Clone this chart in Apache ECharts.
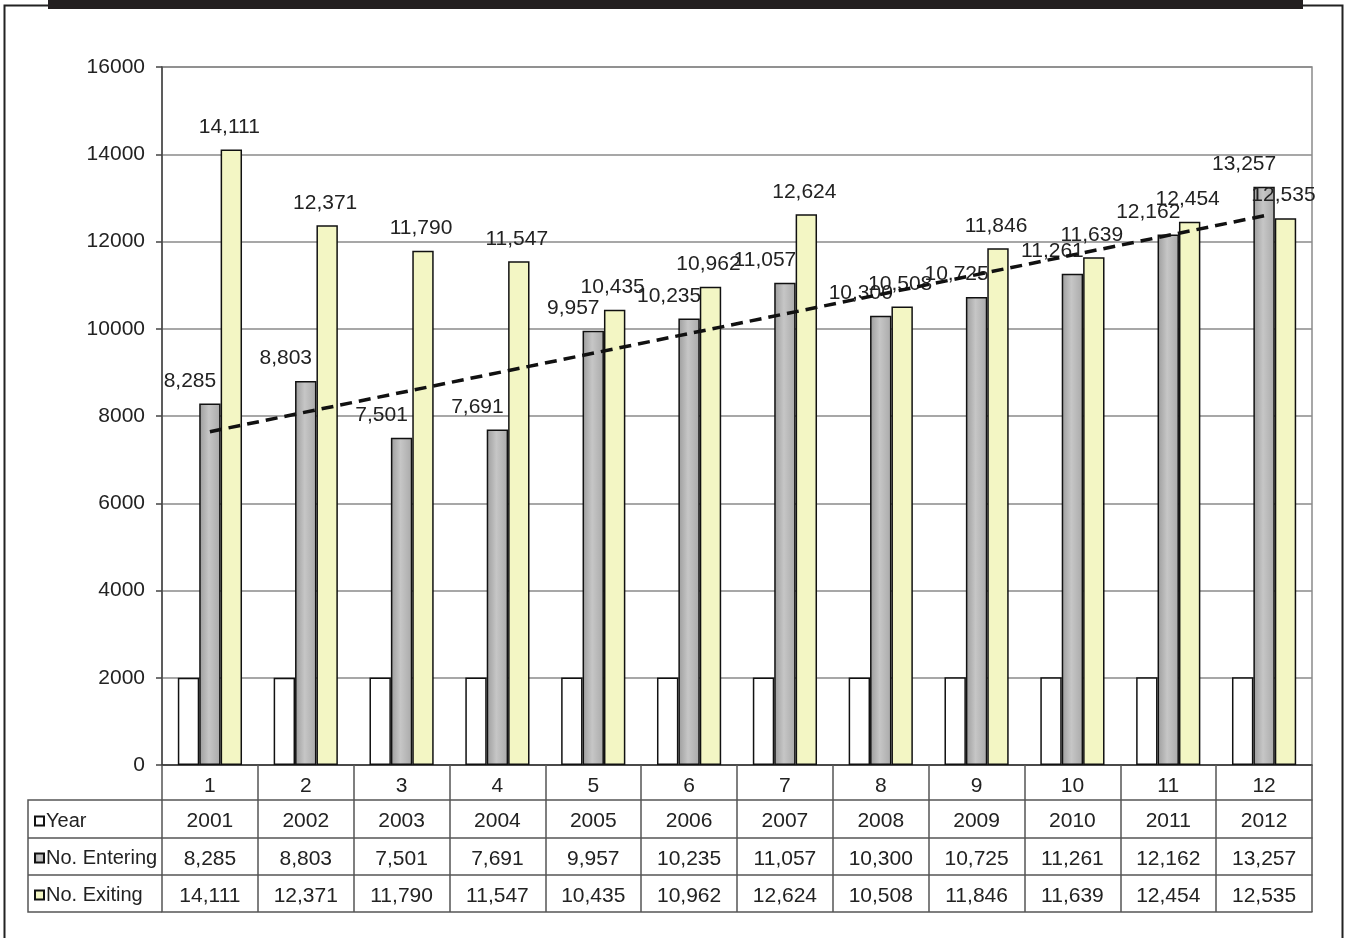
<!DOCTYPE html>
<html>
<head>
<meta charset="utf-8">
<title>Entering and Exiting, 2001-2012</title>
<script src="https://cdn.jsdelivr.net/npm/echarts@6/dist/echarts.min.js"></script>
<style>
  html, body { margin: 0; padding: 0; background: #fff; }
  #chart { width: 1345px; height: 938px; }
</style>
</head>
<body>
<div id="chart"></div>
<script>
// Category numbers shown on the axis row of the data table
const categories = ['1', '2', '3', '4', '5', '6', '7', '8', '9', '10', '11', '12'];
// Series values
const years    = [2001, 2002, 2003, 2004, 2005, 2006, 2007, 2008, 2009, 2010, 2011, 2012];
const entering = [8285, 8803, 7501, 7691, 9957, 10235, 11057, 10300, 10725, 11261, 12162, 13257];
const exiting  = [14111, 12371, 11790, 11547, 10435, 10962, 12624, 10508, 11846, 11639, 12454, 12535];
// Linear trend of "No. Entering": values at the first and last category
const trendEnds = [7640, 12590];
// Value axis range
const yMin = 0, yMax = 16000, yStep = 2000;

const FONT = "'Liberation Sans Narrow', 'Arial Narrow', 'Liberation Sans', Arial, sans-serif";
const TEXT = '#222';
const FS = 21;
const fmt = v => Number(v).toLocaleString('en-US');

const chart = echarts.init(document.getElementById('chart'), null, { renderer: 'canvas' });

// Grid edges in pixels; the data table is laid out beneath the plot
const G = { left: 162, right: 33, top: 67, bottom: 173 };
const W = 1345, H = 938;
const axisY = H - G.bottom;          // y of the category axis line
const rowLines = [35, 73, 110, 147]; // table row lines below the axis
const tableLeft = 28;

function tableAxis(data, offset, showLabel) {
  return {
    type: 'category',
    gridIndex: 0,
    position: 'bottom',
    offset: offset,
    data: data,
    axisLine: { show: true, lineStyle: { color: '#555', width: 1.5 } },
    axisTick: { show: false },
    axisLabel: {
      show: showLabel, margin: 11, fontFamily: FONT, fontSize: FS, color: TEXT, interval: 0
    },
    splitLine: { show: false }
  };
}

const grayFill = new echarts.graphic.LinearGradient(0, 0, 1, 0, [
  { offset: 0, color: '#9c9c9c' },
  { offset: 0.45, color: '#c6c6c6' },
  { offset: 1, color: '#a9a9a9' }
]);

const option = {
  animation: false,
  backgroundColor: '#fff',
  textStyle: { fontFamily: FONT },
  grid: {
    left: G.left, right: G.right, top: G.top, bottom: G.bottom,
    show: true, backgroundColor: '#fff', borderColor: '#8a8a8a', borderWidth: 1.5
  },
  legend: {
    orient: 'vertical',
    left: tableLeft + 6,
    top: axisY + rowLines[0] + 11,
    padding: 0,
    itemGap: 17,
    itemWidth: 9,
    itemHeight: 9,
    icon: 'rect',
    selectedMode: false,
    data: ['Year', 'No. Entering', 'No. Exiting'],
    textStyle: { fontFamily: FONT, fontSize: 20, lineHeight: 20, color: TEXT, padding: [0, 0, 0, -3] }
  },
  xAxis: [
    {
      type: 'category',
      gridIndex: 0,
      position: 'bottom',
      data: categories,
      axisLine: { show: true, lineStyle: { color: '#333', width: 1.5 } },
      axisTick: { show: true, length: rowLines[3], inside: false, lineStyle: { color: '#555', width: 1.5 } },
      axisLabel: { margin: 11, fontFamily: FONT, fontSize: FS, color: TEXT, interval: 0 },
      splitLine: { show: false }
    },
    tableAxis(years.map(String), rowLines[0], true),
    tableAxis(entering.map(fmt), rowLines[1], true),
    tableAxis(exiting.map(fmt), rowLines[2], true),
    tableAxis(categories, rowLines[3], false)
  ],
  yAxis: {
    type: 'value',
    min: yMin, max: yMax, interval: yStep,
    axisLine: { show: true, lineStyle: { color: '#444', width: 1.5 } },
    axisTick: { show: true, length: 6, lineStyle: { color: '#444', width: 1.5 } },
    axisLabel: { margin: 17, fontFamily: FONT, fontSize: FS, color: TEXT, formatter: v => String(v) },
    splitLine: { show: true, lineStyle: { color: '#8a8a8a', width: 1.5 } }
  },
  series: [
    {
      name: 'Year',
      type: 'bar',
      xAxisIndex: 0,
      data: years,
      barGap: '0%',
      barCategoryGap: '33%',
      itemStyle: { color: '#ffffff', borderColor: '#111', borderWidth: 1.5 }
    },
    {
      name: 'No. Entering',
      type: 'bar',
      xAxisIndex: 0,
      data: entering,
      barGap: '0%',
      barCategoryGap: '33%',
      itemStyle: { color: grayFill, borderColor: '#111', borderWidth: 1.5 },
      label: {
        show: true, position: 'top', distance: 12, offset: [-20, 0],
        formatter: p => fmt(p.value), fontFamily: FONT, fontSize: FS, color: TEXT
      },
      markLine: {
        silent: true,
        symbol: ['none', 'none'],
        z: 10,
        label: { show: false },
        lineStyle: { color: '#111', width: 3.5, type: [12, 7] },
        data: [[
          { coord: [categories[0], trendEnds[0]] },
          { coord: [categories[categories.length - 1], trendEnds[1]] }
        ]]
      }
    },
    {
      name: 'No. Exiting',
      type: 'bar',
      xAxisIndex: 0,
      data: exiting,
      barGap: '0%',
      barCategoryGap: '33%',
      itemStyle: { color: '#f3f6c4', borderColor: '#111', borderWidth: 1.5 },
      label: {
        show: true, position: 'top', distance: 12, offset: [-2, 0],
        formatter: p => fmt(p.value), fontFamily: FONT, fontSize: FS, color: TEXT
      }
    }
  ],
  graphic: [
    // heavy rule across the top
    { type: 'rect', shape: { x: 48, y: 0, width: 1255, height: 9 }, style: { fill: '#231f20' }, silent: true },
    // thin outer frame
    { type: 'polyline', shape: { points: [[4.5, H], [4.5, 5.5], [48, 5.5]] },
      style: { stroke: '#222', lineWidth: 2, fill: null }, silent: true },
    { type: 'polyline', shape: { points: [[1303, 5.5], [1342.5, 5.5], [1342.5, H]] },
      style: { stroke: '#222', lineWidth: 2, fill: null }, silent: true },
    // left header cells of the data table
    { type: 'polyline',
      shape: { points: [[G.left, axisY + rowLines[0]], [tableLeft, axisY + rowLines[0]],
                        [tableLeft, axisY + rowLines[3]], [G.left, axisY + rowLines[3]]] },
      style: { stroke: '#555', lineWidth: 1.5, fill: null }, silent: true },
    { type: 'line', shape: { x1: tableLeft, y1: axisY + rowLines[1], x2: G.left, y2: axisY + rowLines[1] },
      style: { stroke: '#555', lineWidth: 1.5 }, silent: true },
    { type: 'line', shape: { x1: tableLeft, y1: axisY + rowLines[2], x2: G.left, y2: axisY + rowLines[2] },
      style: { stroke: '#555', lineWidth: 1.5 }, silent: true }
  ]
};

chart.setOption(option);
</script>
</body>
</html>
